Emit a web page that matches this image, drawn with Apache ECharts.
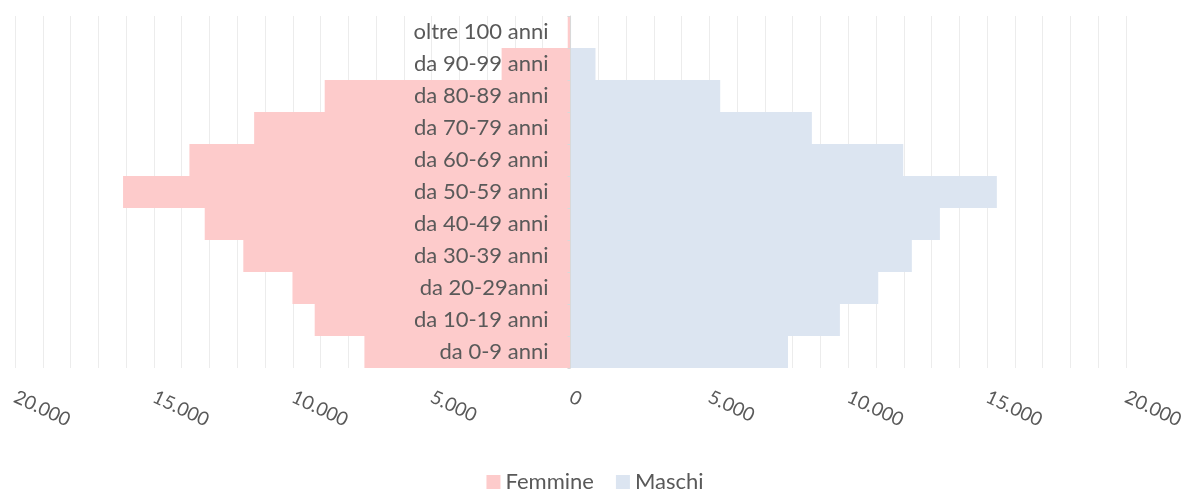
<!DOCTYPE html>
<html>
<head>
<meta charset="utf-8">
<script src="https://cdn.jsdelivr.net/npm/echarts@6/dist/echarts.min.js"></script>
<style>
html, body { margin: 0; padding: 0; background: #fff; }
#chart { width: 1190px; height: 489px; }
</style>
</head>
<body>
<div id="chart"></div>
<script>
var categories = ['da 0-9 anni', 'da 10-19 anni', 'da 20-29anni', 'da 30-39 anni', 'da 40-49 anni',
	'da 50-59 anni', 'da 60-69 anni', 'da 70-79 anni', 'da 80-89 anni', 'da 90-99 anni', 'oltre 100 anni'];
var femmine = [7420, 9210, 10010, 11780, 13170, 16110, 13720, 11390, 8850, 2480, 100];
var maschi = [7830, 9700, 11080, 12290, 13300, 15350, 11980, 8690, 5390, 900, 20];
var tickLabels = [-20000, -15000, -10000, -5000, 0, 5000, 10000, 15000, 20000];

var FONT = 'Lato';
var GREY = '#595959';

function fmt(v) {
	var s = String(Math.abs(v));
	return s.replace(/\B(?=(\d{3})+(?!\d))/g, '.');
}

var myChart = echarts.init(document.getElementById('chart'));
var option = {
	animation: false,
	textStyle: { fontFamily: FONT },
	grid: { left: 15, right: 64, top: 16, bottom: 121, containLabel: false, outerBoundsMode: 'none' },
	legend: {
		bottom: -9,
		left: 'center',
		icon: 'rect',
		itemWidth: 14,
		itemHeight: 14,
		itemGap: 22,
		textStyle: { color: GREY, fontSize: 22, fontFamily: FONT },
		data: ['Femmine', 'Maschi']
	},
	xAxis: {
		type: 'value',
		min: tickLabels[0],
		max: tickLabels[tickLabels.length - 1],
		interval: 5000,
		axisLine: { show: false },
		axisTick: { show: false },
		minorTick: { show: false, splitNumber: 5 },
		splitLine: { show: true, lineStyle: { color: '#ececec', width: 1 } },
		minorSplitLine: { show: true, lineStyle: { color: '#ececec', width: 1 } },
		axisLabel: {
			rotate: -25,
			margin: 28,
			color: GREY,
			fontSize: 19,
			fontFamily: FONT,
			formatter: fmt
		}
	},
	yAxis: {
		type: 'category',
		data: categories,
		z: 5,
		// move the whole axis (line, ticks, labels) to the zero of the value axis
		offset: -555.5,
		axisLine: { onZero: false, lineStyle: { color: '#d9d9d9' } },
		axisTick: { show: true, length: 3, lineStyle: { color: '#d9d9d9' } },
		axisLabel: { color: GREY, fontSize: 22, fontFamily: FONT, margin: 22 }
	},
	series: [
		{
			name: 'Femmine',
			type: 'bar',
			barWidth: '100%',
			barGap: '-100%',
			itemStyle: { color: '#fdcbcb' },
			data: femmine.map(function(v) { return -v; })
		},
		{
			name: 'Maschi',
			type: 'bar',
			barWidth: '100%',
			barGap: '-100%',
			itemStyle: { color: '#dce5f1' },
			data: maschi
		}
	]
};
myChart.setOption(option);
</script>
</body>
</html>
